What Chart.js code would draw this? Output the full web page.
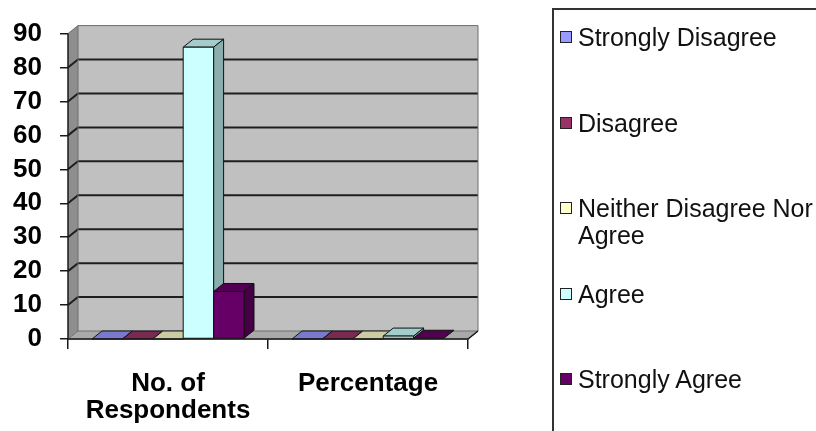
<!DOCTYPE html>
<html>
<head>
<meta charset="utf-8">
<script src="https://cdn.jsdelivr.net/npm/chart.js@4/dist/chart.umd.min.js"></script>
<style>
  html, body { margin: 0; padding: 0; background: #fff; overflow: hidden; width: 816px; height: 431px; }
  #wrap { position: relative; width: 816px; height: 431px; }
  canvas { position: absolute; left: 0; top: 0; }
  #legend {
    position: absolute; left: 552px; top: 8px; width: 300px; height: 440px;
    border-left: 2px solid #333; border-top: 2px solid #333;
    font-family: 'Liberation Sans', Arial, sans-serif; font-size: 25px; color: #111;
  }
  .item { position: absolute; left: 0; width: 300px; }
  .sw { position: absolute; left: 6px; top: 7px; width: 10px; height: 10px; border: 1.5px solid #222; }
  .txt { position: absolute; left: 24px; top: 0; width: 240px; line-height: 27px; }
</style>
</head>
<body>
<div id="wrap">
  <canvas id="c" width="816" height="431"></canvas>
  <div id="legend"></div>
</div>
<script>
// Survey responses: counts and share per answer
const categories = [['No. of', 'Respondents'], 'Percentage'];
const seriesNames = ['Strongly Disagree', 'Disagree', 'Neither Disagree Nor Agree', 'Agree', 'Strongly Agree'];
const stronglyDisagree = [0, 0];
const disagree = [0, 0];
const neitherAgree = [0, 0];
const agree = [86, 0.86];
const stronglyAgree = [14, 0.14];
const seriesColors = ['#9999FF', '#993366', '#FFFFCC', '#CCFFFF', '#660066'];
const yTicks = [0, 10, 20, 30, 40, 50, 60, 70, 80, 90];

const seriesValues = [stronglyDisagree, disagree, neitherAgree, agree, stronglyAgree];

// depth of the 3-D box
const DX = 10, DY = 8;

function shade(hex, f) {
  const n = parseInt(hex.slice(1), 16);
  const r = Math.round(((n >> 16) & 255) * f);
  const g = Math.round(((n >> 8) & 255) * f);
  const b = Math.round((n & 255) * f);
  return `rgb(${r},${g},${b})`;
}

function poly(ctx, pts, fill, stroke, lw) {
  ctx.beginPath();
  ctx.moveTo(pts[0][0], pts[0][1]);
  for (let i = 1; i < pts.length; i++) ctx.lineTo(pts[i][0], pts[i][1]);
  ctx.closePath();
  if (fill) { ctx.fillStyle = fill; ctx.fill(); }
  if (stroke) { ctx.strokeStyle = stroke; ctx.lineWidth = lw || 1; ctx.stroke(); }
}

const box3d = {
  id: 'box3d',
  beforeDatasetsDraw(chart) {
    const { ctx, chartArea: a, scales: { y } } = chart;
    const L = a.left, R = a.right, T = a.top, B = a.bottom;
    ctx.save();
    ctx.lineJoin = 'miter';

    // left side wall
    poly(ctx, [[L, B], [L, T], [L + DX, T - DY], [L + DX, B - DY]], '#8E8E8E');
    // back wall
    poly(ctx, [[L + DX, T - DY], [R + DX, T - DY], [R + DX, B - DY], [L + DX, B - DY]], '#C0C0C0');

    // gridlines across side and back walls
    ctx.strokeStyle = '#1E1E1E';
    ctx.lineWidth = 2;
    yTicks.forEach(v => {
      if (v <= y.min || v >= y.max) return;
      const yy = y.getPixelForValue(v);
      ctx.beginPath();
      ctx.moveTo(L, yy);
      ctx.lineTo(L + DX, yy - DY);
      ctx.lineTo(R + DX, yy - DY);
      ctx.stroke();
    });

    // wall outline
    ctx.strokeStyle = '#6E6E6E';
    ctx.lineWidth = 1;
    ctx.beginPath();
    ctx.moveTo(L, T);
    ctx.lineTo(L + DX, T - DY);
    ctx.lineTo(R + DX, T - DY);
    ctx.lineTo(R + DX, B - DY);
    ctx.stroke();
    ctx.beginPath();
    ctx.moveTo(L + DX, T - DY);
    ctx.lineTo(L + DX, B - DY);
    ctx.stroke();

    // floor
    poly(ctx, [[L, B], [R, B], [R + DX, B - DY], [L + DX, B - DY]], '#A9A9A9', '#6E6E6E', 1);

    // columns, drawn left to right so each front face covers its neighbour's side
    const n = chart.data.datasets.length;
    chart.data.labels.forEach((_, i) => {
      for (let d = 0; d < n; d++) {
        const el = chart.getDatasetMeta(d).data[i];
        const col = seriesColors[d];
        const x0 = el.x - el.width / 2, x1 = el.x + el.width / 2;
        const top = Math.min(el.y, el.base), base = el.base;
        const h = base - top;
        // top face
        poly(ctx, [[x0, top], [x1, top], [x1 + DX, top - DY], [x0 + DX, top - DY]], shade(col, 0.8), '#111', 1);
        if (h > 0.5) {
          // right side face
          poly(ctx, [[x1, top], [x1, base], [x1 + DX, base - DY], [x1 + DX, top - DY]], shade(col, 0.68), '#111', 1);
          // front face
          poly(ctx, [[x0, top], [x1, top], [x1, base], [x0, base]], col, '#111', 1);
        }
      }
    });

    // front edges of the box
    ctx.strokeStyle = '#1A1A1A';
    ctx.lineWidth = 1.5;
    ctx.beginPath();
    ctx.moveTo(L, T);
    ctx.lineTo(L, B);
    ctx.lineTo(R, B);
    ctx.lineTo(R + DX, B - DY);
    ctx.stroke();

    ctx.restore();
    return false;
  }
};

const chart = new Chart(document.getElementById('c'), {
  type: 'bar',
  data: {
    labels: categories,
    datasets: seriesNames.map((name, k) => ({
      label: name,
      data: seriesValues[k],
      backgroundColor: seriesColors[k],
      borderColor: '#111',
      borderWidth: 1,
      categoryPercentage: 0.76,
      barPercentage: 1
    }))
  },
  options: {
    responsive: false,
    animation: false,
    devicePixelRatio: 1,
    layout: { padding: { top: 31, right: 348, left: 0, bottom: 0 } },
    plugins: { legend: { display: false }, tooltip: { enabled: false } },
    scales: {
      x: {
        afterFit(s) { s.height = 92; },
        border: { display: false },
        grid: { display: true, drawOnChartArea: false, drawTicks: true, tickLength: 10, color: '#1A1A1A', lineWidth: 1.5, offset: true },
        ticks: {
          color: '#000', maxRotation: 0, autoSkip: false, padding: 21,
          font: { family: "'Liberation Sans', Arial, sans-serif", size: 26, weight: 'bold', lineHeight: 1.04 }
        }
      },
      y: {
        min: 0, max: 90,
        afterFit(s) { s.width = 68; },
        afterBuildTicks(s) { s.ticks = yTicks.map(v => ({ value: v })); },
        border: { display: false },
        grid: { display: true, drawOnChartArea: false, drawTicks: true, tickLength: 8, color: '#1A1A1A', lineWidth: 1.5 },
        ticks: {
          color: '#000', padding: 18, autoSkip: false,
          font: { family: "'Liberation Sans', Arial, sans-serif", size: 26, weight: 'bold' }
        }
      }
    }
  },
  plugins: [box3d]
});

// legend panel on the right
const legend = document.getElementById('legend');
seriesNames.forEach((name, k) => {
  const item = document.createElement('div');
  item.className = 'item';
  item.style.top = (14 + 85.6 * k) + 'px';
  const sw = document.createElement('div');
  sw.className = 'sw';
  sw.style.background = seriesColors[k];
  const txt = document.createElement('div');
  txt.className = 'txt';
  txt.textContent = name;
  item.appendChild(sw);
  item.appendChild(txt);
  legend.appendChild(item);
});
</script>
</body>
</html>
